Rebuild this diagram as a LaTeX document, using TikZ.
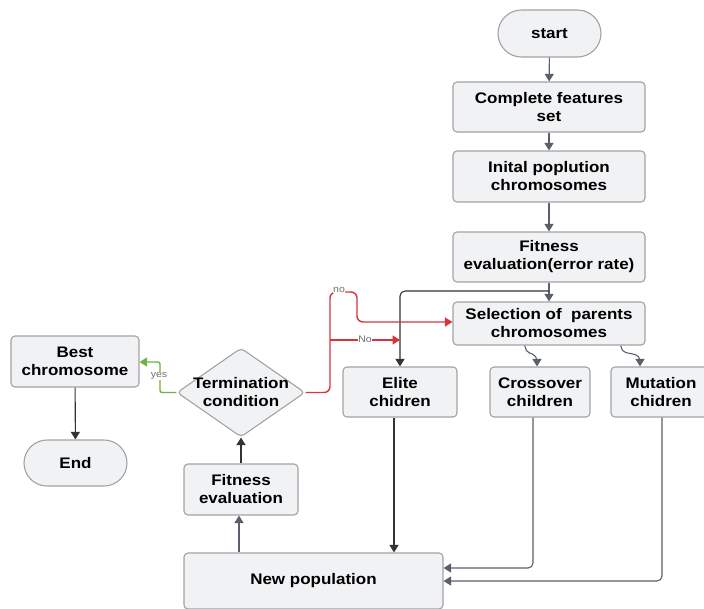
\documentclass[tikz,border=0pt]{standalone}
\usepackage{fontspec}
\setmainfont{Liberation Sans}[FakeStretch=1.11]
\usetikzlibrary{arrows.meta,shapes.geometric}
\definecolor{boxfill}{HTML}{F1F2F4}
\definecolor{boxline}{HTML}{A3A3A6}
\definecolor{conn}{HTML}{59606B}
\definecolor{noline}{HTML}{D8343F}
\definecolor{yesline}{HTML}{6CB43F}
\definecolor{tag}{HTML}{707070}
\tikzset{
  x=1pt,y=-1pt,
  every node/.style={font=\fontsize{15.3}{18}\selectfont\bfseries, align=center, inner sep=0pt},
  procbox/.style={draw=boxline, fill=boxfill, line width=1.1pt, rounded corners=4pt},
  termbox/.style={draw=boxline, fill=boxfill, line width=1.1pt},
  decbox/.style={draw=boxline, fill=boxfill, line width=1.1pt, diamond, aspect=1.44, rounded corners=4pt},
  flow/.style={draw=conn, line width=1.1pt, -{Triangle[width=9pt,length=7.5pt]}, rounded corners=5pt},
  darkflow/.style={draw=black!80, line width=1.1pt, -{Triangle[width=9pt,length=7.5pt]}, rounded corners=5pt},
  noflow/.style={draw=noline, line width=1.4pt, -{Triangle[width=9pt,length=7.5pt]}, rounded corners=6pt},
  yesflow/.style={draw=yesline, line width=1.4pt, -{Triangle[width=9pt,length=7.5pt]}, rounded corners=2pt},
  tagtext/.style={font=\fontsize{9.5}{10}\selectfont, text=tag, fill=white, inner sep=0.5pt},
}
\begin{document}
\begin{tikzpicture}
\useasboundingbox (0,0) rectangle (704,608);
\clip (0,0) rectangle (704,608);

% main column
\node[termbox, rounded corners=23.5pt, minimum width=103pt, minimum height=47pt] (start) at (549.5,33.5) {start};
\node[procbox, minimum width=192pt, minimum height=50pt] (feat) at (549,107) {Complete features\\set};
\node[procbox, minimum width=192pt, minimum height=51pt] (init) at (549,176.5) {Inital poplution\\chromosomes};
\node[procbox, minimum width=192pt, minimum height=50pt] (fiterr) at (549,257) {Fitness\\evaluation(error rate)};
\node[procbox, minimum width=192pt, minimum height=43pt] (sel) at (549,323.5) {Selection of \ parents\\chromosomes};

% offspring
\node[procbox, minimum width=114pt, minimum height=50pt] (elite) at (400,392) {Elite\\chidren};
\node[procbox, minimum width=100pt, minimum height=50pt] (cross) at (540,392) {Crossover\\children};
\node[procbox, minimum width=100pt, minimum height=50pt] (mut) at (661,392) {Mutation\\chidren};

% loop
\node[procbox, minimum width=259pt, minimum height=56pt] (newpop) at (313.5,581) {New population};
\node[procbox, minimum width=114pt, minimum height=51pt] (fiteval) at (241,489.5) {Fitness\\evaluation};
\node[decbox, minimum width=128pt, minimum height=89pt] (term) at (241,392.5) {};
\node at (term.center) {Termination\\condition};

% exit
\node[procbox, minimum width=128pt, minimum height=51pt] (best) at (75,361.5) {Best\\chromosome};
\node[termbox, rounded corners=23pt, minimum width=103pt, minimum height=46pt] (endn) at (75.5,463) {End};

% helper points
\coordinate (split) at (549,291);
\coordinate (elitein) at (400,340);

% main column connectors
\draw[flow] (start) -- (feat);
\draw[flow] (feat) -- (init);
\draw[flow] (init) -- (fiterr);
\draw[flow] (fiterr) -- (sel);
\draw[darkflow] (split) -| (elite.north);

% selection to offspring
\draw[flow] (sel.south -| 525,0) -- ++(0,6) -- ++(12,4) -- (cross.north -| 537,0);
\draw[flow] (sel.south -| 621,0) -- ++(0,6) -- ++(19,4) -- (mut.north -| 640,0);

% offspring into the new population
\draw[darkflow] (elite.south -| 394,0) -- (newpop.north -| 394,0);
\draw[flow] (cross.south -| 533,0) |- (newpop.east |- 0,568);
\draw[flow] (mut.south -| 662,0) |- (newpop.east |- 0,581);

% evaluation loop
\draw[flow] (newpop.north -| 239,0) -- (fiteval.south -| 239,0);
\draw[darkflow] (fiteval) -- (term);

% termination branches
\draw[noflow] (term.east) -- (330,392.5) -- (330,292) -- (357,292) -- (357,322) -- (sel.west |- 0,322);
\draw[noflow] (330,340) -- (elitein);
\node[tagtext] at (339,290) {no};
\node[tagtext] at (365,339) {No};
\draw[yesflow] (term.west) -- (160,392.5) -- (160,362) -- (best.east |- 0,362);
\node[tagtext] at (159,376) {yes};
\draw[darkflow] (best) -- (endn);
\end{tikzpicture}
\end{document}
